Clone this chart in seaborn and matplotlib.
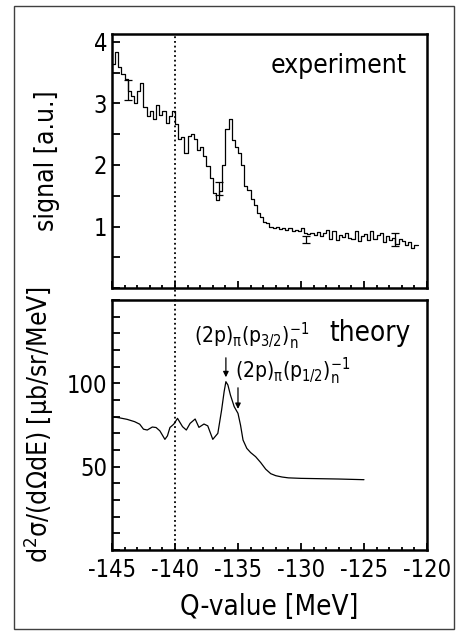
import numpy as np
import matplotlib
matplotlib.use("Agg")
import matplotlib.pyplot as plt
import matplotlib.ticker as mticker
from matplotlib import font_manager
from matplotlib.patches import Rectangle
import seaborn as sns

# experiment: histogram, 0.25 MeV bins starting at -145 MeV
bin_start = -145.0
bin_width = 0.25
signal = [3.64, 3.84, 3.60, 3.48, 3.40, 3.20, 3.12, 3.00, 3.20, 3.34,
          2.95, 2.80, 2.88, 2.75, 2.98, 2.82, 2.88, 2.69, 2.80, 2.87,
          2.66, 2.42, 2.46, 2.20, 2.47, 2.50, 2.42, 2.25, 2.30, 2.15,
          1.98, 1.79, 1.54, 1.43, 1.57, 2.00, 2.59, 2.74, 2.41, 2.30,
          2.20, 2.00, 1.66, 1.60, 1.45, 1.35, 1.22, 1.15,
          1.08, 1.05, 1.00, 0.98, 1.00, 0.96, 0.97, 0.95, 0.97, 0.93,
          0.95, 0.92, 0.98, 0.90, 0.88, 0.90, 0.86, 0.91, 0.84, 0.90,
          0.95, 0.80, 0.92, 0.78, 0.86, 0.83, 0.90, 0.82, 0.80, 0.93,
          0.76, 0.85, 0.88, 0.78, 0.92, 0.80, 0.86, 0.90, 0.74, 0.84,
          0.78, 0.82, 0.72, 0.80, 0.76, 0.70, 0.74, 0.65, 0.70]

# a few representative error bars
err_q = [-143.7, -136.5, -129.6, -122.5]
err_val = [3.22, 1.62, 0.79, 0.79]
err_size = [0.17, 0.10, 0.06, 0.11]

# theory curve
q_theory = [-145.0, -144.4, -143.8, -143.2, -142.8, -142.5, -142.2, -141.8,
            -141.5, -141.2, -140.8, -140.6, -140.4, -140.1, -139.8, -139.4,
            -139.1, -138.8, -138.4, -138.1, -137.7, -137.4, -137.0, -136.6,
            -136.3, -136.1, -135.96, -135.8, -135.6, -135.3, -135.0, -134.8,
            -134.6, -134.3, -134.0, -133.6, -133.2, -132.8, -132.4, -132.0,
            -131.5, -131.0, -130.0, -128.5, -127.0, -125.0]
dsigma = [80.0, 79.3, 78.4, 77.0, 75.5, 72.5, 72.0, 73.8, 73.5, 71.5,
          66.4, 68.5, 73.5, 75.5, 79.0, 74.0, 72.0, 76.0, 78.6, 73.6,
          75.6, 74.5, 66.4, 70.0, 84.0, 95.0, 101.0, 99.0, 93.0, 86.0,
          82.0, 75.0, 66.0, 61.0, 58.5, 56.0, 52.5, 48.5, 45.8, 44.6,
          43.8, 43.3, 43.0, 42.8, 42.6, 42.2]

q_cut = -140.0
xlim = (-145, -120)
xticks = [-145, -140, -135, -130, -125, -120]

sns.set_style("ticks")

# pick a narrow face if one is installed
names = {f.name for f in font_manager.fontManager.ttflist}
if "Liberation Sans Narrow" in names:
    main_font = "Liberation Sans Narrow"
    stretch = "normal"
else:
    main_font = "DejaVu Sans"
    stretch = "condensed"
plt.rcParams["font.family"] = [main_font, "DejaVu Sans"]
plt.rcParams["font.stretch"] = stretch
plt.rcParams["mathtext.fontset"] = "custom"
plt.rcParams["mathtext.rm"] = main_font
plt.rcParams["mathtext.it"] = main_font
plt.rcParams["mathtext.sf"] = main_font
plt.rcParams["axes.linewidth"] = 1.8
for k in ["text.color", "axes.labelcolor", "axes.edgecolor",
          "xtick.color", "ytick.color"]:
    plt.rcParams[k] = "black"

fig = plt.figure(figsize=(4.62, 6.32), dpi=100)
ax1 = fig.add_axes([0.2424, 0.5443, 0.6818, 0.4019])
ax2 = fig.add_axes([0.2424, 0.1297, 0.6818, 0.3956])

# experiment histogram as a step line
edges = bin_start + bin_width * np.arange(len(signal) + 1)
step_y = np.append(signal, signal[-1])
sns.lineplot(x=edges, y=step_y, ax=ax1, color="black", lw=0.9,
             drawstyle="steps-post", estimator=None, sort=False)
ax1.errorbar(err_q, err_val, yerr=err_size, fmt="none", ecolor="black",
             elinewidth=0.9, capsize=3, capthick=0.9)
ax1.set_ylim(0, 4.13)
ax1.yaxis.set_major_locator(mticker.FixedLocator([1, 2, 3, 4]))
ax1.yaxis.set_minor_locator(mticker.MultipleLocator(0.5))
ax1.set_xticklabels([])
ax1.set_ylabel("signal [a.u.]", fontsize=19, labelpad=24)
ax1.text(0.935, 0.875, "experiment", transform=ax1.transAxes, ha="right",
         va="center", fontsize=19)
ax1.axvline(q_cut, ymin=-0.05, ymax=1, color="black", lw=1.3,
            ls=(0, (1, 1.6)), clip_on=False)

# theory curve
sns.lineplot(x=q_theory, y=dsigma, ax=ax2, color="black", lw=0.9,
             estimator=None, sort=False)
ax2.set_ylim(0, 150)
ax2.yaxis.set_major_locator(mticker.FixedLocator([50, 100]))
ax2.yaxis.set_minor_locator(mticker.MultipleLocator(10))
ax2.set_xlabel("Q-value [MeV]", fontsize=20, labelpad=8)
ax2.set_ylabel(r"d$^2\sigma$/(d$\Omega$dE) [$\mu$b/sr/MeV]", fontsize=19,
               labelpad=8)
ax2.text(0.82, 0.87, "theory", transform=ax2.transAxes, ha="center",
         va="center", fontsize=20)
ax2.axvline(q_cut, color="black", lw=1.3, ls=(0, (1, 1.6)))

ax2.text(-138.5, 128, r"$(2p)_{\pi}(p_{3/2})_{n}^{-1}$", fontsize=15,
         ha="left", va="center")
ax2.text(-135.2, 107, r"$(2p)_{\pi}(p_{1/2})_{n}^{-1}$", fontsize=15,
         ha="left", va="center")
ax2.annotate("", xy=(-135.96, 102), xytext=(-135.96, 117),
             arrowprops=dict(arrowstyle="-|>", color="black", lw=0.9,
                             mutation_scale=8))
ax2.annotate("", xy=(-135.0, 83), xytext=(-135.0, 99),
             arrowprops=dict(arrowstyle="-|>", color="black", lw=0.9,
                             mutation_scale=8))

for ax in (ax1, ax2):
    ax.set_xlim(*xlim)
    ax.xaxis.set_major_locator(mticker.FixedLocator(xticks))
    ax.xaxis.set_minor_locator(mticker.MultipleLocator(1))
    ax.tick_params(which="both", direction="in", top=False, right=False,
                   width=1.3)
    ax.tick_params(axis="x", which="major", length=5)
    ax.tick_params(axis="x", which="minor", length=2.5)
    ax.tick_params(axis="y", which="both", length=6)
    for s in ax.spines.values():
        s.set_visible(True)
        s.set_linewidth(1.8)
        s.set_color("black")

ax2.xaxis.set_major_formatter(mticker.FuncFormatter(lambda v, p: "%d" % v))
ax1.yaxis.set_major_formatter(mticker.FuncFormatter(lambda v, p: "%d" % v))
ax2.yaxis.set_major_formatter(mticker.FuncFormatter(lambda v, p: "%d" % v))
ax2.tick_params(axis="x", pad=6, labelsize=17)
ax1.tick_params(axis="y", labelsize=17)
ax2.tick_params(axis="y", labelsize=17)

fig.patches.append(Rectangle((0.03, 0.004), 0.953, 0.987,
                             transform=fig.transFigure, fill=False,
                             lw=1.0, ec="0.25"))

fig.savefig("out.png", dpi=100)
